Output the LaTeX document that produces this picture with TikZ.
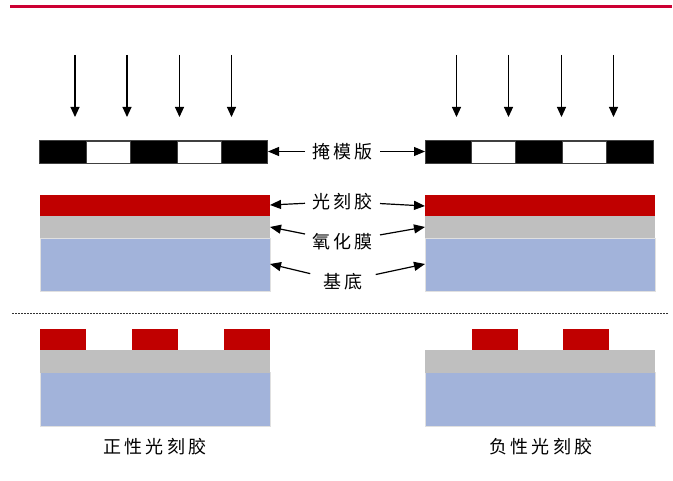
\documentclass[tikz,border=0pt]{standalone}
\usepackage{fontspec}
\newfontfamily\cjk{Noto Sans CJK SC}
\usetikzlibrary{arrows.meta}
\definecolor{topred}{RGB}{204,0,51}
\definecolor{resist}{RGB}{192,0,0}
\definecolor{oxide}{RGB}{191,191,191}
\definecolor{substr}{RGB}{162,179,218}
\newcommand\cjkgap{\hspace{3.5pt}}
\begin{document}
\begin{tikzpicture}[x=1pt,y=-1pt,
  lbl/.style={font=\cjk\fontsize{18}{20}\selectfont, inner sep=0pt, outer sep=7pt, text=black},
  ptr/.style={-{Triangle[length=11pt,width=9pt]}, line width=1.2pt},
  ray/.style={-{Triangle[length=10pt,width=9pt]}, line width=1.1pt},
  wht/.style={fill=white, draw=black!75, line width=0.5pt},
  resistbox/.style={fill=resist},
  oxidebox/.style={fill=oxide},
  substrbox/.style={fill=substr}
]
\useasboundingbox (0,0) rectangle (673,481);
% top rule
\draw[topred, line width=2.4pt] (10,6.5) -- (672,6.5);

% exposure rays
\foreach \x [count=\i] in {75,127,179.5,231.5,456.5,508.5,561.5,613.5}{
  \coordinate (rs\i) at (\x,55);
  \coordinate (re\i) at (\x,117);
  \draw[ray] (rs\i) -- (re\i);
}

% masks
\foreach \x in {39.5,425}{
  \fill[black] (\x,140.5) rectangle (\x+228,163.5);
  \draw[wht] (\x+46.5,141) rectangle (\x+90.5,163);
  \draw[wht] (\x+137.5,141) rectangle (\x+181.5,163);
  \draw[draw=black!75, line width=0.5pt] (\x,140.5) rectangle (\x+228,163.5);
}

% layered stacks (before exposure)
\foreach \x in {40,425}{
  \fill[substrbox] (\x,238) rectangle (\x+230,291.5);
  \draw[black!12, line width=0.5pt] (\x,238) rectangle (\x+230,291.5);
  \fill[oxidebox] (\x,216) rectangle (\x+230,238);
  \fill[resistbox] (\x,195) rectangle (\x+230,216);
}

% labels
\node[lbl] (lmask) at (342.5,151.5) {掩\cjkgap 模\cjkgap 版};
\node[lbl] (lres)  at (342.5,201.5) {光\cjkgap 刻\cjkgap 胶};
\node[lbl] (lox)   at (342.5,241.5) {氧\cjkgap 化\cjkgap 膜};
\node[lbl, outer sep=13pt] (lsub) at (343,281.5) {基\cjkgap 底};

\coordinate (maskL) at (268,151.5);
\coordinate (maskR) at (425,151.5);
\coordinate (resL) at (270,205);
\coordinate (resR) at (425,206);
\coordinate (oxL) at (270,227);
\coordinate (oxR) at (425,227);
\coordinate (subL) at (270,264);
\coordinate (subR) at (425,264);

\draw[ptr] (lmask) -- (maskL);
\draw[ptr] (lmask) -- (maskR);
\draw[ptr] (lres) -- (resL);
\draw[ptr] (lres) -- (resR);
\draw[ptr] (lox) -- (oxL);
\draw[ptr] (lox) -- (oxR);
\draw[ptr] (lsub) -- (subL);
\draw[ptr] (lsub) -- (subR);

% separator
\draw[black!80, line width=1pt, dash pattern=on 1.5pt off 1.5pt] (12,313.5) -- (669,313.5);

% results
\foreach \x in {40,425}{
  \fill[substrbox] (\x,372.7) rectangle (\x+230,426);
  \draw[black!12, line width=0.5pt] (\x,372.7) rectangle (\x+230,426);
  \fill[oxidebox] (\x,350.5) rectangle (\x+230,372.7);
}
\foreach \x in {40,132,224,472,563}{
  \fill[resistbox] (\x,329) rectangle (\x+46,350.5);
}

\node[lbl] (lpos) at (155,446.7) {正\cjkgap 性\cjkgap 光\cjkgap 刻\cjkgap 胶};
\node[lbl] (lneg) at (541,446.7) {负\cjkgap 性\cjkgap 光\cjkgap 刻\cjkgap 胶};
\end{tikzpicture}
\end{document}
